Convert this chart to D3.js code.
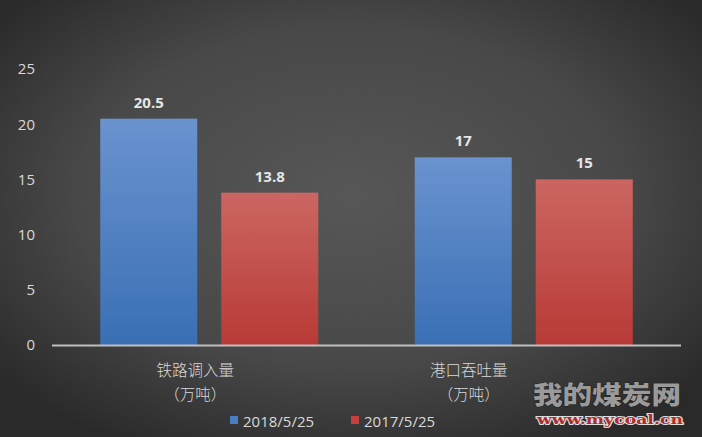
<!DOCTYPE html>
<html><head><meta charset="utf-8">
<script src="https://cdn.jsdelivr.net/npm/d3@7"></script>
<style>html,body{margin:0;padding:0;background:#333;}svg{display:block;}</style>
</head><body>
<script>
const categories = ["铁路调入量\n（万吨）", "港口吞吐量\n（万吨）"];
const seriesNames = ["2018/5/25", "2017/5/25"];
const series2018 = [20.5, 17];
const series2017 = [13.8, 15];
const yTicks = [0, 5, 10, 15, 20, 25];

const W = 702, H = 437;
const svg = d3.select("body").append("svg").attr("width", W).attr("height", H);
const defs = svg.append("defs");
const bg = defs.append("radialGradient").attr("id","bg").attr("cx","50%").attr("cy","45%").attr("r","65%")
  .attr("gradientUnits","objectBoundingBox");
bg.append("stop").attr("offset","0%").attr("stop-color","#575757");
bg.append("stop").attr("offset","60%").attr("stop-color","#484848");
bg.append("stop").attr("offset","100%").attr("stop-color","#2a2a2a");
const gB = defs.append("linearGradient").attr("id","gB").attr("x1",0).attr("y1",0).attr("x2",0).attr("y2",1);
gB.append("stop").attr("offset","0%").attr("stop-color","#6a93cf");
gB.append("stop").attr("offset","100%").attr("stop-color","#3a6fb4");
const gR = defs.append("linearGradient").attr("id","gR").attr("x1",0).attr("y1",0).attr("x2",0).attr("y2",1);
gR.append("stop").attr("offset","0%").attr("stop-color","#cc6662");
gR.append("stop").attr("offset","100%").attr("stop-color","#b83a36");
const fills = ["url(#gB)", "url(#gR)"];
const legendColors = ["#4a7ec4", "#c4403c"];

svg.append("rect").attr("width",W).attr("height",H).attr("fill","url(#bg)");

const plotL = 52, plotR = 681, y0 = 345, yTop = 69;
const y = d3.scaleLinear().domain([0,25]).range([y0, yTop]);
const x0 = d3.scaleBand().domain(d3.range(categories.length)).range([plotL, plotR])
  .paddingInner(0.3068).paddingOuter(0.1534);
const x1 = d3.scaleBand().domain([0,1]).range([0, x0.bandwidth()]).paddingInner(24/121).paddingOuter(0);

// y axis labels
const yAxis = d3.axisLeft(y).tickValues(yTicks).tickSize(0).tickPadding(0);
const ga = svg.append("g").attr("transform","translate(35,0)").call(yAxis);
ga.select(".domain").remove();
ga.selectAll("text").attr("fill","#d9d9d9").style("font-family","'Open Sans', 'Liberation Sans', sans-serif").style("font-size","15px").attr("dy","0.32em");

const data = categories.map((c,i)=>[series2018[i], series2017[i]]);
const groups = svg.selectAll("g.cat").data(data).join("g").attr("class","cat")
  .attr("transform",(d,i)=>`translate(${x0(i)},0)`);
groups.selectAll("rect").data(d=>d).join("rect")
  .attr("x",(d,j)=>x1(j)).attr("width",x1.bandwidth())
  .attr("y",d=>y(d)).attr("height",d=>y0-y(d)).attr("fill",(d,j)=>fills[j]);
groups.selectAll("text.val").data(d=>d).join("text").attr("class","val")
  .attr("x",(d,j)=>x1(j)+x1.bandwidth()/2).attr("y",d=>y(d)-11)
  .attr("text-anchor","middle").attr("fill","#e6e6e6")
  .style("font-family","'Open Sans', 'Liberation Sans', sans-serif").style("font-weight","bold").style("font-size","15px")
  .text(d=>d);

// baseline
svg.append("line").attr("x1",plotL).attr("x2",plotR).attr("y1",y0+0.5).attr("y2",y0+0.5)
  .attr("stroke","#bfbfbf").attr("stroke-width",2);

// category labels
const labelOffsets = [-14, -55];
categories.forEach((c,i)=>{
  const cx = x0(i)+x0.bandwidth()/2 + labelOffsets[i];
  const t = svg.append("text").attr("text-anchor","middle").attr("fill","#d9d9d9")
    .style("font-family","'Noto Sans CJK SC', sans-serif").style("font-size","15.5px").style("font-weight","300");
  c.split("\n").forEach((line,k)=>{
    t.append("tspan").attr("x",cx).attr("y",376+k*24).text(line);
  });
});

// legend
const legX = [230, 351];
seriesNames.forEach((s,i)=>{
  svg.append("rect").attr("x",legX[i]).attr("y",416).attr("width",8).attr("height",8).attr("fill",legendColors[i]);
  svg.append("text").attr("x",legX[i]+13).attr("y",427).attr("fill","#d9d9d9")
    .style("font-family","'Open Sans', 'Liberation Sans', sans-serif").style("font-size","15px").text(s);
});

// watermark
svg.append("text").attr("x",533).attr("y",404).attr("fill","#9a9a9a").attr("stroke","#222").attr("stroke-width",1.2)
  .attr("paint-order","stroke").style("font-family","'Noto Sans CJK SC', sans-serif").style("font-weight","900")
  .style("font-size","25px").attr("textLength",148).attr("lengthAdjust","spacingAndGlyphs").text("我的煤炭网");
svg.append("text").attr("x",537).attr("y",424).attr("fill","#b02a2a").attr("stroke","#dddddd").attr("stroke-width",2)
  .attr("paint-order","stroke").style("font-family","'DejaVu Serif', serif").style("font-weight","bold")
  .style("font-size","13px").attr("textLength",146).attr("lengthAdjust","spacingAndGlyphs").text("www.mycoal.cn");
</script>
</body></html>
